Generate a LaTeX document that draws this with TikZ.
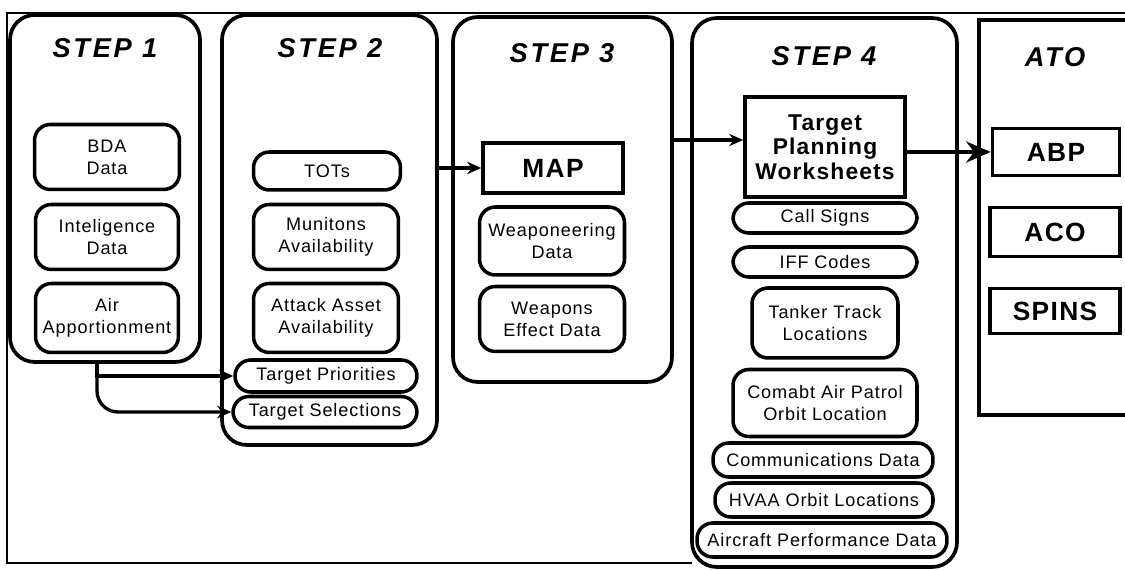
\documentclass[tikz,border=0pt]{standalone}
\usepackage{fontspec}
\setmainfont{Liberation Sans}
\newfontfamily\stepfont[LetterSpace=10]{Liberation Sans}
\newfontfamily\boxfont[LetterSpace=5]{Liberation Sans}
\usetikzlibrary{arrows.meta,positioning}

\begin{document}
\begin{tikzpicture}[x=0.02cm,y=-0.02cm]
\tikzstyle{stepbox} = [rectangle, rounded corners=14pt, line width=2.1pt, draw=black]
\tikzstyle{rr} = [rectangle, rounded corners=9pt, line width=2pt, draw=black, align=center, inner sep=1pt, font=\boxfont\fontsize{10.3}{12.5}\selectfont]
\tikzstyle{sq} = [rectangle, line width=2.1pt, draw=black, align=center, inner sep=1pt, font=\boxfont\bfseries\fontsize{15}{16}\selectfont]
\tikzstyle{ttl} = [font=\stepfont\bfseries\itshape\fontsize{15.5}{16}\selectfont]
\tikzstyle{arr} = [line width=1.9pt, -{Stealth[length=8pt,width=7pt]}]
\useasboundingbox (0,0) rectangle (1125,570);
\clip (0,0) rectangle (1125,570);
\draw[line width=1pt] (1125,13) -- (7,13) -- (7,563) -- (692,563);
% steps
\node (S1) [stepbox, minimum width=3.8cm, minimum height=6.94cm] at (105,188.5) {};
\node (S2) [stepbox, minimum width=4.3cm, minimum height=8.6cm] at (329.5,230) {};
\node (S3) [stepbox, minimum width=4.38cm, minimum height=7.3cm] at (562.5,199.5) {};
\node (S4) [stepbox, minimum width=5.3cm, minimum height=10.98cm] at (824.5,292.5) {};
\node (ATO) [rectangle, draw=black, line width=2.1pt, minimum width=4.4cm, minimum height=7.9cm] at (1089,217.5) {};
\node (T1) [ttl] at (105,48) {STEP 1};
\node (T2) [ttl] at (330,48) {STEP 2};
\node (T3) [ttl] at (562,53) {STEP 3};
\node (T4) [ttl] at (824,56) {STEP 4};
\node (T5) [ttl] at (1055,57) {ATO};
% step 1
\node (BDA) [rr, minimum width=2.9cm, minimum height=1.3cm] at (107,157) {BDA\\Data};
\node (INT) [rr, minimum width=2.86cm, minimum height=1.3cm] at (107,237) {Inteligence\\Data};
\node (AIR) [rr, minimum width=2.86cm, minimum height=1.38cm] at (107,318) {Air\\Apportionment};
% step 2
\node (TOT) [rr, minimum width=2.94cm, minimum height=0.76cm] at (327,171) {TOTs};
\node (MUN) [rr, minimum width=2.9cm, minimum height=1.3cm] at (326,237) {Munitons\\Availability};
\node (ATK) [rr, minimum width=2.9cm, minimum height=1.38cm] at (326,318) {Attack Asset\\Availability};
\node (TP) [rr, minimum width=3.64cm, minimum height=0.64cm] at (326,376) {Target Priorities};
\node (TS) [rr, minimum width=3.68cm, minimum height=0.62cm] at (325,412) {Target Selections};
% step 3
\node (MAP) [sq, minimum width=2.8cm, minimum height=1cm] at (553,168) {MAP};
\node (WEA) [rr, minimum width=2.9cm, minimum height=1.36cm] at (552,241) {Weaponeering\\Data};
\node (WEF) [rr, minimum width=2.9cm, minimum height=1.3cm] at (552,319) {Weapons\\Effect Data};
% step 4
\node (TPW) [sq, minimum width=3.2cm, minimum height=2cm, font=\boxfont\bfseries\fontsize{13}{14}\selectfont] at (825,147) {Target\\Planning\\Worksheets};
\node (CS) [rr, minimum width=3.68cm, minimum height=0.6cm] at (825,218) {Call Signs};
\node (IFF) [rr, minimum width=3.68cm, minimum height=0.6cm] at (825,262) {IFF Codes};
\node (TTL) [rr, minimum width=2.92cm, minimum height=1.4cm] at (825,323) {Tanker Track\\Locations};
\node (CAP) [rr, minimum width=3.68cm, minimum height=1.34cm] at (825,403) {Comabt Air Patrol\\Orbit Location};
\node (COM) [rr, minimum width=4.4cm, minimum height=0.68cm] at (823,460) {Communications Data};
\node (HVA) [rr, minimum width=4.36cm, minimum height=0.68cm] at (824,500) {HVAA Orbit Locations};
\node (ACP) [rr, minimum width=5cm, minimum height=0.68cm] at (822,540) {Aircraft Performance Data};
% ato
\node (ABP) [sq, minimum width=2.54cm, minimum height=0.94cm] at (1056,152) {ABP};
\node (ACO) [sq, minimum width=2.6cm, minimum height=0.98cm] at (1055,232) {ACO};
\node (SPN) [sq, minimum width=2.6cm, minimum height=0.9cm] at (1055,311) {SPINS};
% arrows
\draw[arr] ([xshift=-0.16cm]S1.south) |- (TP.west);
\draw[arr, rounded corners=12pt] ([xshift=-0.16cm]S1.south) |- (TS.west);
\draw[arr] (S2.east |- MAP.west) -- (MAP.west);
\draw[arr] ([yshift=0.14cm]TPW.west -| S3.east) -- ([yshift=0.14cm]TPW.west);
\draw[line width=1.9pt, -{Stealth[length=14pt,width=12pt]}] (TPW.east |- ABP.west) -- (ABP.west);

\end{tikzpicture}
\end{document}
